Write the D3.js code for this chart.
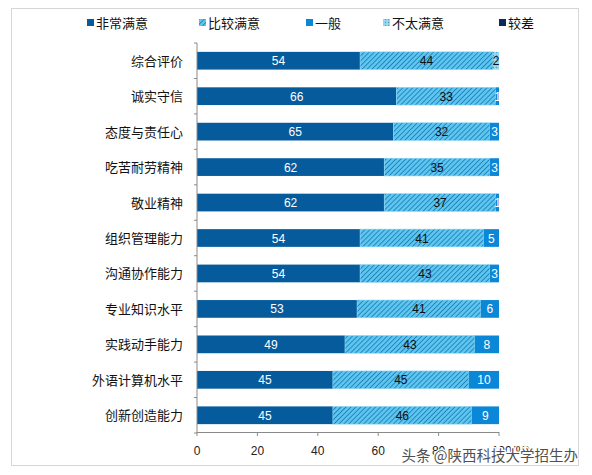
<!DOCTYPE html>
<html>
<head>
<meta charset="utf-8">
<script src="https://cdn.jsdelivr.net/npm/d3@7/dist/d3.min.js"></script>
<style>
body { margin:0; background:#fff; }
</style>
</head>
<body>
<svg id="svg" width="592" height="475"></svg>
<script>
// data
const categories = ["综合评价","诚实守信","态度与责任心","吃苦耐劳精神","敬业精神","组织管理能力","沟通协作能力","专业知识水平","实践动手能力","外语计算机水平","创新创造能力"];
const seriesNames = ["非常满意","比较满意","一般","不太满意","较差"];
const veryGood = [54,66,65,62,62,54,54,53,49,45,45];
const good     = [44,33,32,35,37,41,43,41,43,45,46];
const normal   = [0,1,3,3,1,5,3,6,8,10,9];
const notGood  = [2,0,0,0,0,0,0,0,0,0,0];
const bad      = [0,0,0,0,0,0,0,0,0,0,0];
const xTicks = [0,20,40,60,80,100];

const svg = d3.select("#svg");
const cjk = "'Noto Sans CJK SC', sans-serif";
const num = "'Liberation Sans', Arial, sans-serif";

// patterns
const defs = svg.append("defs");
const hatch = defs.append("pattern").attr("id","hatch").attr("patternUnits","userSpaceOnUse")
    .attr("width",3.5).attr("height",3.5).attr("patternTransform","rotate(45)");
hatch.append("rect").attr("width",3.5).attr("height",3.5).attr("fill","#5cc6ef");
hatch.append("line").attr("x1",0).attr("y1",0).attr("x2",0).attr("y2",3.5).attr("stroke","#1872b2").attr("stroke-width",1.5);
const dots = defs.append("pattern").attr("id","dots").attr("patternUnits","userSpaceOnUse")
    .attr("width",3).attr("height",3);
dots.append("rect").attr("width",3).attr("height",3).attr("fill","#9ad8f2");
dots.append("circle").attr("cx",1.5).attr("cy",1.5).attr("r",0.7).attr("fill","#3aa3d8");

const fills = ["#065b9c","url(#hatch)","#0b87d8","url(#dots)","#0d2a5e"];
const labelColors = ["#fff","#111","#fff","#111","#fff"];

// frame
svg.append("rect").attr("x",11.5).attr("y",8.5).attr("width",567).attr("height",457)
    .attr("fill","none").attr("stroke","#d6d6d6");

const x = d3.scaleLinear().domain([0,100]).range([197,499]);
const y = d3.scaleBand().domain(categories).range([43,433]).paddingInner(0.5).paddingOuter(0.25);

const rows = categories.map((c,i)=>({cat:c, vals:[veryGood[i],good[i],normal[i],notGood[i],bad[i]]}));
const stack = d3.stack().keys(d3.range(5)).value((d,k)=>d.vals[k])(rows);

stack.forEach((layer,k)=>{
    svg.append("g").selectAll("rect").data(layer).join("rect")
        .attr("x",d=>x(d[0]))
        .attr("y",d=>y(d.data.cat))
        .attr("width",d=>Math.max(0,x(d[1])-x(d[0])))
        .attr("height",y.bandwidth())
        .attr("fill",fills[k])
        .attr("stroke",k==1?"#8fd6f3":"none").attr("stroke-width",0.6);
    svg.append("g").selectAll("text").data(layer.filter(d=>d[1]-d[0]>0)).join("text")
        .attr("x",d=>(x(d[0])+x(d[1]))/2)
        .attr("y",d=>y(d.data.cat)+y.bandwidth()/2+4.5)
        .attr("text-anchor","middle")
        .style("font-family",num).style("font-size","12px")
        .style("fill",labelColors[k])
        .text(d=>d[1]-d[0]);
});

// axes
const axisColor = "#8a8a8a";
svg.append("line").attr("x1",197).attr("x2",197).attr("y1",43).attr("y2",433).attr("stroke",axisColor);
svg.append("line").attr("x1",197).attr("x2",499).attr("y1",432.5).attr("y2",432.5).attr("stroke",axisColor);
const step = y.step();
d3.range(categories.length+1).forEach(i=>{
    const yy = 43 + i*step;
    svg.append("line").attr("x1",194).attr("x2",197).attr("y1",yy).attr("y2",yy).attr("stroke",axisColor);
});
svg.append("g").selectAll("line").data(xTicks).join("line")
    .attr("x1",d=>x(d)).attr("x2",d=>x(d)).attr("y1",432).attr("y2",436).attr("stroke",axisColor);
svg.append("g").selectAll("text").data(xTicks).join("text")
    .attr("x",d=>x(d)+(d==100?12:0)).attr("y",455)
    .attr("text-anchor","middle")
    .style("font-family",num).style("font-size","12px").style("fill","#222")
    .text(d=>d==100?"100(%)":d);

// category labels
svg.append("g").selectAll("text").data(categories).join("text")
    .attr("x",183).attr("y",d=>y(d)+y.bandwidth()/2+5)
    .attr("text-anchor","end")
    .style("font-family",cjk).style("font-size","13px").style("fill","#111")
    .text(d=>d);

// legend
const legendX = [87,199,306,383,499];
seriesNames.forEach((n,i)=>{
    svg.append("rect").attr("x",legendX[i]).attr("y",19).attr("width",7).attr("height",7).attr("fill",fills[i]);
    svg.append("text").attr("x",legendX[i]+9).attr("y",28)
        .style("font-family",cjk).style("font-size","13px").style("fill","#111").text(n);
});

// watermark
svg.append("text").attr("x",578).attr("y",461).attr("text-anchor","end")
    .style("font-family",cjk).style("font-size","14.5px")
    .style("fill","#505050").style("stroke","#fff").style("stroke-width",2.5).style("paint-order","stroke")
    .text("头条 @陕西科技大学招生办");
</script>
</body>
</html>
